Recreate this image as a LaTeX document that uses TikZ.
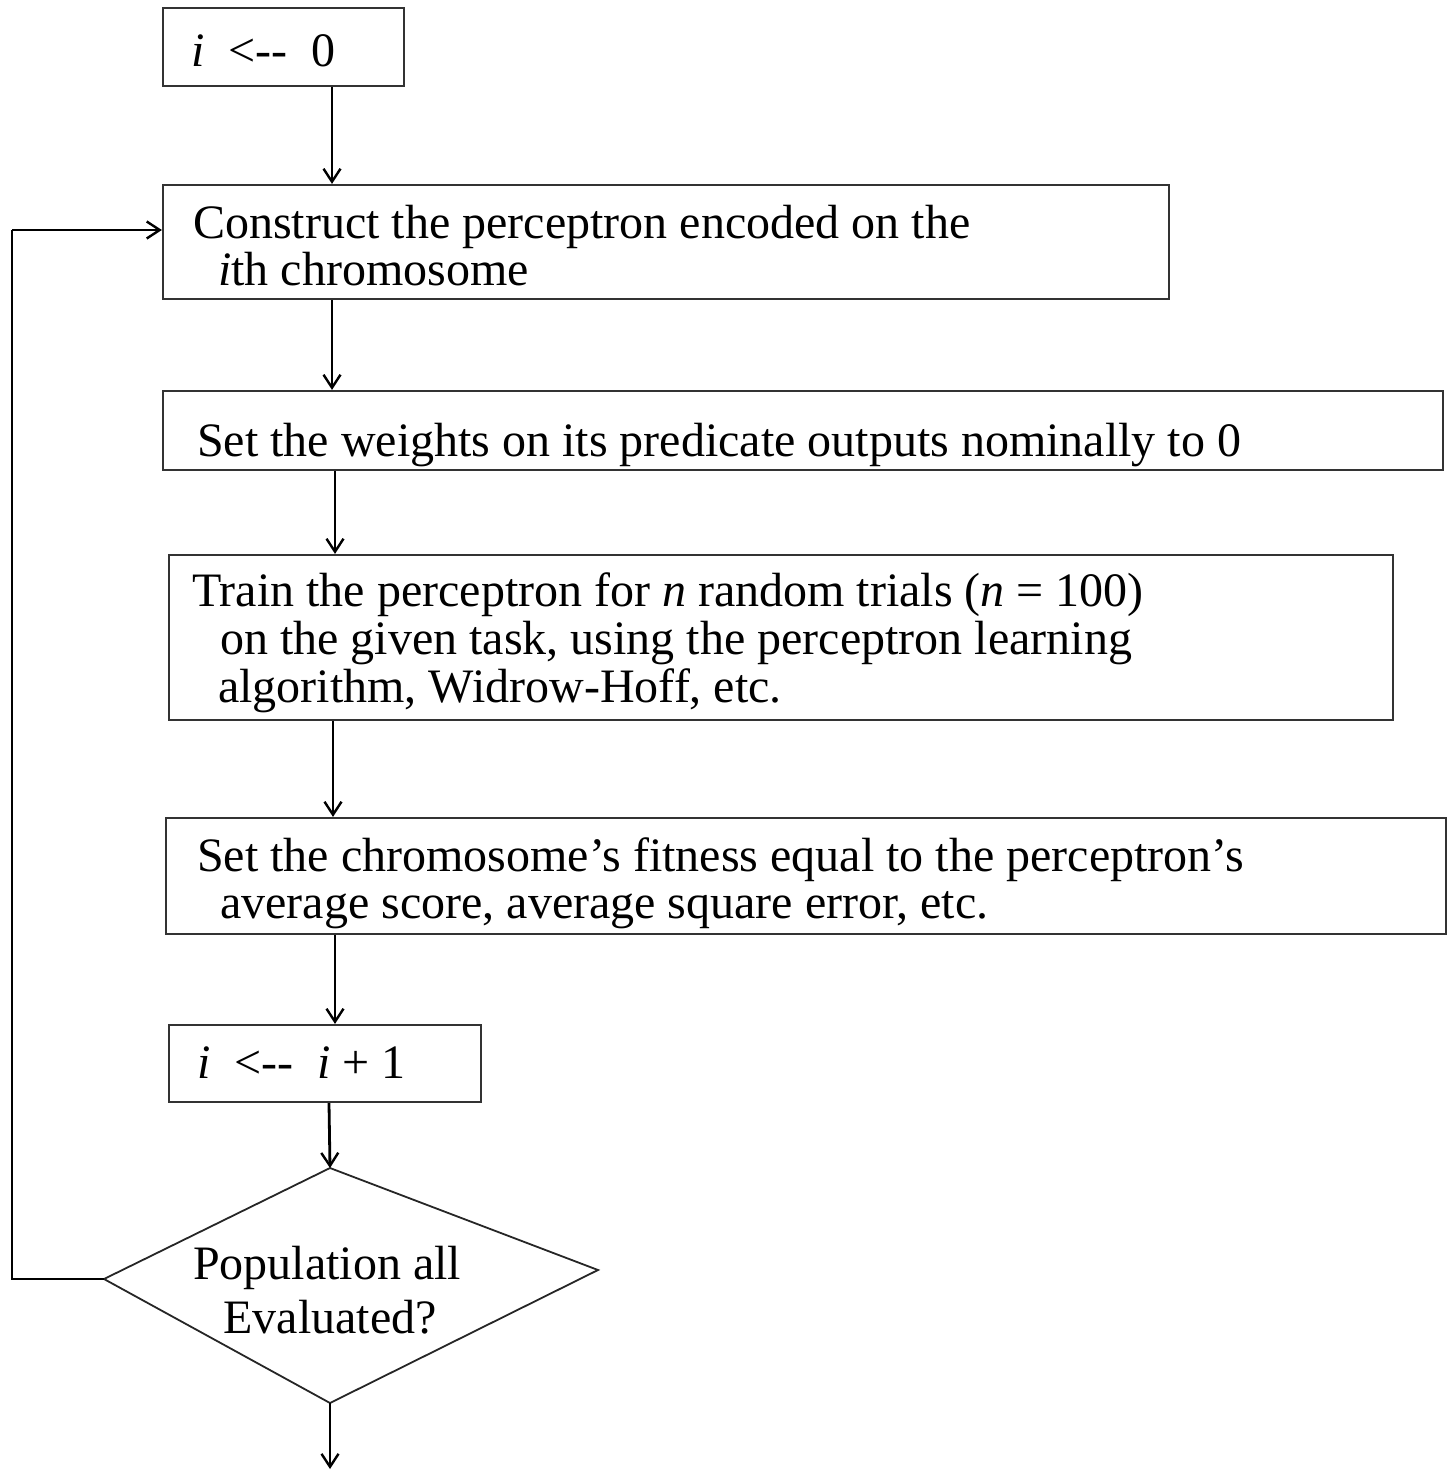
\documentclass[tikz,border=0pt]{standalone}
\usepackage{fontspec}
\setmainfont{Liberation Serif}
\usetikzlibrary{arrows.meta}
\begin{document}
\begin{tikzpicture}[x=1pt,y=-1pt,
  box/.style={draw=black!80,line width=2.2pt,minimum width=#1,inner sep=0pt},
  txt/.style={anchor=base west,inner sep=0pt,font=\fontsize{48}{50}\selectfont},
  arr/.style={line width=2.8pt,-{Straight Barb[length=13pt,width=17pt,line width=2.4pt]}},
  link/.style={line width=2.8pt}]
\useasboundingbox (0,0) rectangle (1454,1471);
% boxes
\node[box=241pt,minimum height=78pt] (b1) at (283.5,47) {};
\node[box=1006pt,minimum height=114pt] (b2) at (666,242) {};
\node[box=1280pt,minimum height=79pt] (b3) at (803,430.5) {};
\node[box=1224pt,minimum height=165pt] (b4) at (781,637.5) {};
\node[box=1280pt,minimum height=116pt] (b5) at (806,876) {};
\node[box=312pt,minimum height=77pt] (b6) at (325,1063.5) {};
% diamond
\coordinate (dt) at (330,1168);
\coordinate (dl) at (104,1279);
\coordinate (dr) at (598,1270);
\coordinate (db) at (330,1403);
\draw[black!85,line width=1.8pt] (dt) -- (dr) -- (db) -- (dl) -- cycle;
% texts
\node[txt] (t1) at (191,67) {\textit{i}\ \ <{-}{-}\ \ 0};
\node[txt] (t2a) at (193,239) {Construct the perceptron encoded on the};
\node[txt] (t2b) at (218,285) {\textit{i}th chromosome};
\node[txt] (t3) at (197,456) {Set the weights on its predicate outputs nominally to 0};
\node[txt] (t4a) at (192,606) {Train the perceptron for \textit{n} random trials (\textit{n} = 100)};
\node[txt] (t4b) at (220,654) {on the given task, using the perceptron learning};
\node[txt] (t4c) at (218,702) {algorithm, Widrow-Hoff, etc.};
\node[txt] (t5a) at (197,871) {Set the chromosome’s fitness equal to the perceptron’s};
\node[txt] (t5b) at (220,918) {average score, average square error, etc.};
\node[txt] (t6) at (197,1078) {\textit{i}\ \ <{-}{-}\ \ \textit{i} + 1};
\node[txt,anchor=base] (t7a) at (327,1279) {Population all};
\node[txt,anchor=base] (t7b) at (330,1333) {Evaluated?};
% connectors
\draw[arr] (332,0 |- b1.south) -- (332,0 |- b2.north);
\draw[arr] (332,0 |- b2.south) -- (332,0 |- b3.north);
\draw[arr] (335,0 |- b3.south) -- (335,0 |- b4.north);
\draw[arr] (333,0 |- b4.south) -- (333,0 |- b5.north);
\draw[arr] (335,0 |- b5.south) -- (335,0 |- b6.north);
\draw[arr] (329,0 |- b6.south) -- (dt);
\coordinate (end) at (330,1469);
\draw[arr] (db) -- (end);
\coordinate (lp1) at (12,1279);
\coordinate (lp2) at (12,230);
\draw[link] (dl) -- (lp1) -- (lp2);
\draw[arr] (lp2) -- (lp2 -| b2.west);
\end{tikzpicture}
\end{document}
